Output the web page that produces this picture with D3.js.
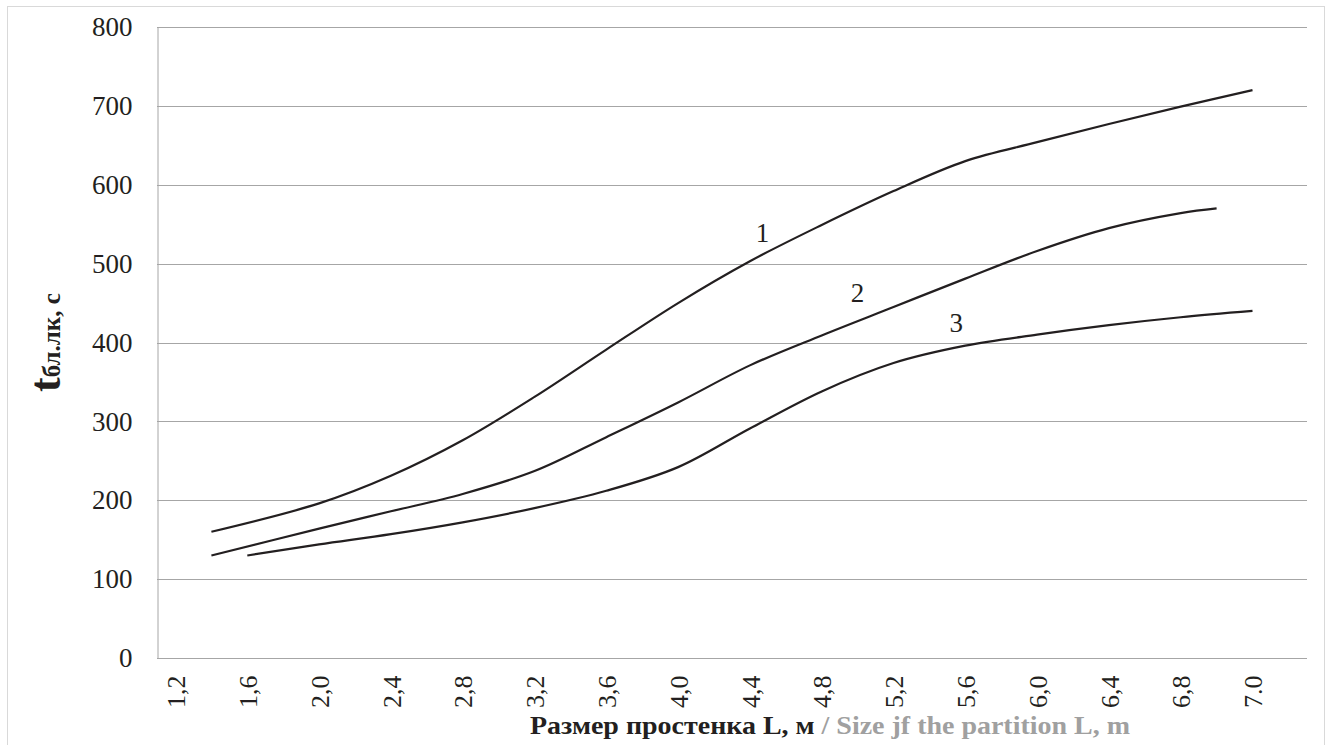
<!DOCTYPE html>
<html>
<head>
<meta charset="utf-8">
<script src="https://cdn.jsdelivr.net/npm/d3@7"></script>
<style>
  html, body { margin: 0; padding: 0; background: #ffffff; }
  svg { display: block; }
  text { font-family: "Liberation Serif", "Times New Roman", serif; fill: #231f20; }
</style>
</head>
<body>
<svg id="chart" width="1328" height="745"></svg>
<script>
// ---- data ----
const xTickValues = [1.2, 1.6, 2.0, 2.4, 2.8, 3.2, 3.6, 4.0, 4.4, 4.8, 5.2, 5.6, 6.0, 6.4, 6.8, 7.2];
const xTickLabels = ["1,2", "1,6", "2,0", "2,4", "2,8", "3,2", "3,6", "4,0", "4,4", "4,8", "5,2", "5,6", "6,0", "6,4", "6,8", "7.0"];
const yTickValues = [0, 100, 200, 300, 400, 500, 600, 700, 800];

const series1X = [1.4, 2.0, 2.4, 2.8, 3.2, 3.6, 4.0, 4.4, 4.8, 5.2, 5.6, 6.0, 6.4, 6.8, 7.2];
const series1Y = [160, 196, 231, 276, 331, 391, 450, 503, 549, 592, 630, 654, 677, 699, 720];

const series2X = [1.4, 2.0, 2.4, 2.8, 3.2, 3.6, 4.0, 4.4, 4.8, 5.2, 5.6, 6.0, 6.4, 6.8, 7.0];
const series2Y = [130, 164, 186, 208, 237, 280, 324, 371, 409, 445, 481, 516, 545, 564, 570];

const series3X = [1.6, 2.0, 2.4, 2.8, 3.2, 3.6, 4.0, 4.4, 4.8, 5.2, 5.6, 6.0, 6.4, 6.8, 7.2];
const series3Y = [130, 144, 157, 172, 190, 212, 242, 291, 338, 374, 396, 410, 422, 432, 440];

const curveLabels = ["1", "2", "3"];
const curveLabelX = [4.47, 5.0, 5.55];
const curveLabelY = [540, 463, 425];

const yTitleMain = "t";
const yTitleSub = "бл.лк, с";
const xTitleRu = "Размер простенка L, м";
const xTitleEn = " / Size jf the partition L, m";

// ---- layout ----
const plotLeft = 157, plotRight = 1307, plotTop = 27, plotBottom = 658;
const svg = d3.select("#chart");

// outer frame
svg.append("rect")
  .attr("x", 7.5).attr("y", 6.5).attr("width", 1317).attr("height", 745)
  .attr("fill", "#ffffff").attr("stroke", "#d9d9d9").attr("stroke-width", 1);

const x = d3.scaleLinear().domain([1.2, 7.2]).range([175.5, 1252.5]);
const y = d3.scaleLinear().domain([0, 800]).range([plotBottom, plotTop]);

// gridlines
svg.append("g").selectAll("line").data(yTickValues.filter(v => v > 0)).join("line")
  .attr("x1", plotLeft).attr("x2", plotRight)
  .attr("y1", d => Math.round(y(d)) + 0.5).attr("y2", d => Math.round(y(d)) + 0.5)
  .attr("stroke", "#a6a6a6").attr("stroke-width", 1);

// y axis
const yAxis = d3.axisLeft(y).tickValues(yTickValues).tickSize(0).tickPadding(25).tickFormat(d3.format("d"));
const gy = svg.append("g").attr("transform", `translate(${plotLeft + 0.5},0)`).call(yAxis);
gy.select(".domain").attr("stroke", "#a6a6a6").attr("stroke-width", 1);
gy.selectAll("text").attr("font-size", 27).attr("fill", "#231f20")
  .attr("font-family", "Liberation Serif");

// x axis
const xAxis = d3.axisBottom(x).tickValues(xTickValues).tickSize(0)
  .tickFormat((d, i) => xTickLabels[i]);
const gx = svg.append("g").attr("transform", `translate(0,${plotBottom + 0.5})`).call(xAxis);
gx.select(".domain").attr("stroke", "#a6a6a6").attr("stroke-width", 1)
  .attr("d", `M${plotLeft},0H${plotRight}`);
gx.selectAll("text")
  .attr("font-size", 26).attr("fill", "#231f20").attr("font-family", "Liberation Serif")
  .attr("text-anchor", "end")
  .attr("transform", "rotate(-90)")
  .attr("x", -17).attr("y", 0).attr("dy", "0.35em");

// lines
const line = d3.line().x(d => x(d[0])).y(d => y(d[1])).curve(d3.curveCatmullRom.alpha(0.5));
const allSeries = [
  d3.zip(series1X, series1Y),
  d3.zip(series2X, series2Y),
  d3.zip(series3X, series3Y)
];
svg.append("g").selectAll("path").data(allSeries).join("path")
  .attr("d", line)
  .attr("fill", "none").attr("stroke", "#231f20").attr("stroke-width", 2.2)
  .attr("stroke-linecap", "butt");

// curve labels
svg.append("g").selectAll("text").data(curveLabels).join("text")
  .attr("x", (d, i) => x(curveLabelX[i]))
  .attr("y", (d, i) => y(curveLabelY[i]))
  .attr("dy", "0.35em")
  .attr("text-anchor", "middle")
  .attr("font-size", 27)
  .text(d => d);

// y title
const yt = svg.append("text")
  .attr("transform", "translate(60,392) rotate(-90)")
  .attr("text-anchor", "start")
  .attr("font-weight", "bold");
yt.append("tspan").attr("font-size", 44).text(yTitleMain);
yt.append("tspan").attr("font-size", 25).text(yTitleSub);

// x title
const xt = svg.append("text")
  .attr("x", 530).attr("y", 734)
  .attr("font-weight", "bold").attr("font-size", 26)
  .attr("textLength", 600).attr("lengthAdjust", "spacingAndGlyphs");
xt.append("tspan").attr("fill", "#231f20").text(xTitleRu);
xt.append("tspan").attr("fill", "#a0a0a0").style("fill", "#a0a0a0").text(xTitleEn);
</script>
</body>
</html>
